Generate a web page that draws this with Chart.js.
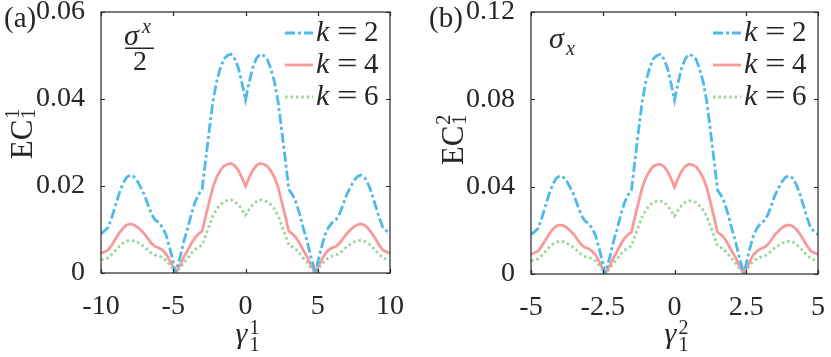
<!DOCTYPE html>
<html>
<head>
<meta charset="utf-8">
<script src="https://cdn.jsdelivr.net/npm/chart.js@4.4.0/dist/chart.umd.min.js"></script>
<style>
  html, body { margin: 0; padding: 0; background: #fff; }
  #wrap { position: relative; width: 831px; height: 357px; }
  canvas { position: absolute; top: 0; }
</style>
</head>
<body>
<div id="wrap">
  <canvas id="chartA" width="415" height="357" style="left:0px"></canvas>
  <canvas id="chartB" width="416" height="357" style="left:415px"></canvas>
</div>
<script>
// ---- panel (a) data: gamma_1^1 vs EC_1^1 ----
const gammaA = [-10, -9.75, -9.5, -9.25, -9, -8.75, -8.5, -8.25, -8, -7.75, -7.5, -7.25, -7, -6.75, -6.5, -6.25, -6, -5.75, -5.5, -5.25, -5, -4.85, -4.5, -4.25, -4, -3.75, -3.5, -3.25, -3, -2.75, -2.5, -2.25, -2, -1.75, -1.5, -1.25, -1, -0.75, -0.5, -0.25, 0,
  0.25, 0.5, 0.75, 1, 1.25, 1.5, 1.75, 2, 2.25, 2.5, 2.75, 3, 3.25, 3.5, 3.75, 4, 4.25, 4.5, 4.85, 5, 5.25, 5.5, 5.75, 6, 6.25, 6.5, 6.75, 7, 7.25, 7.5, 7.75, 8, 8.25, 8.5, 8.75, 9, 9.25, 9.5, 9.75, 10];
const ecA_k2 = [0.0090, 0.0097, 0.0105, 0.0128, 0.0155, 0.0182, 0.0204, 0.0219, 0.0225, 0.0222, 0.0212, 0.0197, 0.0180, 0.0157, 0.0135, 0.0122, 0.0116, 0.0105, 0.0088, 0.0058, 0.0025, 0.0000, 0.0040, 0.0075, 0.0103, 0.0135, 0.0162, 0.0180, 0.0192, 0.0262, 0.0330, 0.0395, 0.0440, 0.0470, 0.0492, 0.0500, 0.0503, 0.0493, 0.0472, 0.0438, 0.0398,
  0.0438, 0.0472, 0.0493, 0.0503, 0.0500, 0.0492, 0.0470, 0.0440, 0.0395, 0.0330, 0.0262, 0.0192, 0.0180, 0.0162, 0.0135, 0.0103, 0.0075, 0.0040, 0.0000, 0.0025, 0.0058, 0.0088, 0.0105, 0.0116, 0.0122, 0.0135, 0.0157, 0.0180, 0.0197, 0.0212, 0.0222, 0.0225, 0.0219, 0.0204, 0.0182, 0.0155, 0.0128, 0.0105, 0.0097, 0.0090];
const ecA_k4 = [0.0045, 0.0049, 0.0053, 0.0064, 0.0078, 0.0091, 0.0102, 0.0110, 0.0113, 0.0111, 0.0106, 0.0099, 0.0090, 0.0079, 0.0068, 0.0061, 0.0058, 0.0053, 0.0044, 0.0029, 0.0013, 0.0000, 0.0020, 0.0038, 0.0052, 0.0068, 0.0081, 0.0090, 0.0096, 0.0131, 0.0165, 0.0198, 0.0220, 0.0235, 0.0246, 0.0250, 0.0252, 0.0247, 0.0236, 0.0219, 0.0199,
  0.0219, 0.0236, 0.0247, 0.0252, 0.0250, 0.0246, 0.0235, 0.0220, 0.0198, 0.0165, 0.0131, 0.0096, 0.0090, 0.0081, 0.0068, 0.0052, 0.0038, 0.0020, 0.0000, 0.0013, 0.0029, 0.0044, 0.0053, 0.0058, 0.0061, 0.0068, 0.0079, 0.0090, 0.0099, 0.0106, 0.0111, 0.0113, 0.0110, 0.0102, 0.0091, 0.0078, 0.0064, 0.0053, 0.0049, 0.0045];
const ecA_k6 = [0.0030, 0.0032, 0.0035, 0.0043, 0.0052, 0.0061, 0.0068, 0.0073, 0.0075, 0.0074, 0.0071, 0.0066, 0.0060, 0.0052, 0.0045, 0.0041, 0.0039, 0.0035, 0.0029, 0.0019, 0.0008, 0.0000, 0.0013, 0.0025, 0.0034, 0.0045, 0.0054, 0.0060, 0.0064, 0.0087, 0.0110, 0.0132, 0.0147, 0.0157, 0.0164, 0.0167, 0.0168, 0.0164, 0.0157, 0.0146, 0.0133,
  0.0146, 0.0157, 0.0164, 0.0168, 0.0167, 0.0164, 0.0157, 0.0147, 0.0132, 0.0110, 0.0087, 0.0064, 0.0060, 0.0054, 0.0045, 0.0034, 0.0025, 0.0013, 0.0000, 0.0008, 0.0019, 0.0029, 0.0035, 0.0039, 0.0041, 0.0045, 0.0052, 0.0060, 0.0066, 0.0071, 0.0074, 0.0075, 0.0073, 0.0068, 0.0061, 0.0052, 0.0043, 0.0035, 0.0032, 0.0030];

// ---- panel (b) data: gamma_1^2 vs EC_1^2 ----
const gammaB = [-5, -4.875, -4.75, -4.625, -4.5, -4.375, -4.25, -4.125, -4, -3.875, -3.75, -3.625, -3.5, -3.375, -3.25, -3.125, -3, -2.875, -2.75, -2.625, -2.5, -2.425, -2.25, -2.125, -2, -1.875, -1.75, -1.625, -1.5, -1.375, -1.25, -1.125, -1, -0.875, -0.75, -0.625, -0.5, -0.375, -0.25, -0.125, 0,
  0.125, 0.25, 0.375, 0.5, 0.625, 0.75, 0.875, 1, 1.125, 1.25, 1.375, 1.5, 1.625, 1.75, 1.875, 2, 2.125, 2.25, 2.425, 2.5, 2.625, 2.75, 2.875, 3, 3.125, 3.25, 3.375, 3.5, 3.625, 3.75, 3.875, 4, 4.125, 4.25, 4.375, 4.5, 4.625, 4.75, 4.875, 5];
const ecB_k2 = [0.0180, 0.0194, 0.0210, 0.0256, 0.0310, 0.0364, 0.0408, 0.0438, 0.0450, 0.0444, 0.0424, 0.0394, 0.0360, 0.0314, 0.0270, 0.0244, 0.0232, 0.0210, 0.0176, 0.0116, 0.0050, 0.0000, 0.0080, 0.0150, 0.0206, 0.0270, 0.0324, 0.0360, 0.0384, 0.0524, 0.0660, 0.0790, 0.0880, 0.0940, 0.0984, 0.1000, 0.1006, 0.0986, 0.0944, 0.0876, 0.0796,
  0.0876, 0.0944, 0.0986, 0.1006, 0.1000, 0.0984, 0.0940, 0.0880, 0.0790, 0.0660, 0.0524, 0.0384, 0.0360, 0.0324, 0.0270, 0.0206, 0.0150, 0.0080, 0.0000, 0.0050, 0.0116, 0.0176, 0.0210, 0.0232, 0.0244, 0.0270, 0.0314, 0.0360, 0.0394, 0.0424, 0.0444, 0.0450, 0.0438, 0.0408, 0.0364, 0.0310, 0.0256, 0.0210, 0.0194, 0.0180];
const ecB_k4 = [0.0090, 0.0097, 0.0105, 0.0128, 0.0155, 0.0182, 0.0204, 0.0219, 0.0225, 0.0222, 0.0212, 0.0197, 0.0180, 0.0157, 0.0135, 0.0122, 0.0116, 0.0105, 0.0088, 0.0058, 0.0025, 0.0000, 0.0040, 0.0075, 0.0103, 0.0135, 0.0162, 0.0180, 0.0192, 0.0262, 0.0330, 0.0395, 0.0440, 0.0470, 0.0492, 0.0500, 0.0503, 0.0493, 0.0472, 0.0438, 0.0398,
  0.0438, 0.0472, 0.0493, 0.0503, 0.0500, 0.0492, 0.0470, 0.0440, 0.0395, 0.0330, 0.0262, 0.0192, 0.0180, 0.0162, 0.0135, 0.0103, 0.0075, 0.0040, 0.0000, 0.0025, 0.0058, 0.0088, 0.0105, 0.0116, 0.0122, 0.0135, 0.0157, 0.0180, 0.0197, 0.0212, 0.0222, 0.0225, 0.0219, 0.0204, 0.0182, 0.0155, 0.0128, 0.0105, 0.0097, 0.0090];
const ecB_k6 = [0.0060, 0.0065, 0.0070, 0.0085, 0.0103, 0.0121, 0.0136, 0.0146, 0.0150, 0.0148, 0.0141, 0.0131, 0.0120, 0.0105, 0.0090, 0.0081, 0.0077, 0.0070, 0.0059, 0.0039, 0.0017, 0.0000, 0.0027, 0.0050, 0.0069, 0.0090, 0.0108, 0.0120, 0.0128, 0.0175, 0.0220, 0.0263, 0.0293, 0.0313, 0.0328, 0.0333, 0.0335, 0.0329, 0.0315, 0.0292, 0.0265,
  0.0292, 0.0315, 0.0329, 0.0335, 0.0333, 0.0328, 0.0313, 0.0293, 0.0263, 0.0220, 0.0175, 0.0128, 0.0120, 0.0108, 0.0090, 0.0069, 0.0050, 0.0027, 0.0000, 0.0017, 0.0039, 0.0059, 0.0070, 0.0077, 0.0081, 0.0090, 0.0105, 0.0120, 0.0131, 0.0141, 0.0148, 0.0150, 0.0146, 0.0136, 0.0121, 0.0103, 0.0085, 0.0070, 0.0065, 0.0060];

// ticks
const xTicksA = [-10, -5, 0, 5, 10];
const xLabelsA = ['-10', '-5', '0', '5', '10'];
const yTicksA = [0, 0.02, 0.04, 0.06];
const yLabelsA = ['0', '0.02', '0.04', '0.06'];
const xTicksB = [-5, -2.5, 0, 2.5, 5];
const xLabelsB = ['-5', '-2.5', '0', '2.5', '5'];
const yTicksB = [0, 0.04, 0.08, 0.12];
const yLabelsB = ['0', '0.04', '0.08', '0.12'];

const seriesNames = ['2', '4', '6'];

const SERIF = '"Liberation Serif", "DejaVu Serif", serif';
const INK = '#262626';
const COLORS = ['#4DBAE8', '#F89A9A', '#9DD69D'];
const DASHES = [[10, 3, 3, 3], [], [2.6, 2.8]];

function pts(xs, ys) {
  return xs.map((x, i) => ({ x: x, y: ys[i] }));
}

function txt(ctx, s, x, y, size, italic) {
  ctx.font = (italic ? 'italic ' : '') + size + 'px ' + SERIF;
  ctx.textAlign = 'left';
  ctx.textBaseline = 'alphabetic';
  ctx.fillStyle = INK;
  ctx.fillText(s, x, y);
  return ctx.measureText(s).width;
}

// box around the plot and inward ticks (MATLAB style)
function drawFrame(chart, xTicks, yTicks) {
  const { ctx, chartArea: a, scales } = chart;
  ctx.save();
  ctx.strokeStyle = INK;
  ctx.lineWidth = 1.2;
  ctx.strokeRect(a.left, a.top, a.right - a.left, a.bottom - a.top);
  ctx.beginPath();
  xTicks.forEach(v => {
    const p = Math.round(scales.x.getPixelForValue(v)) + 0.5;
    ctx.moveTo(p, a.bottom); ctx.lineTo(p, a.bottom - 4);
    ctx.moveTo(p, a.top); ctx.lineTo(p, a.top + 4);
  });
  yTicks.forEach(v => {
    const p = Math.round(scales.y.getPixelForValue(v)) + 0.5;
    ctx.moveTo(a.left, p); ctx.lineTo(a.left + 4, p);
    ctx.moveTo(a.right, p); ctx.lineTo(a.right - 4, p);
  });
  ctx.stroke();
  ctx.restore();
}

function drawLegend(chart) {
  const { ctx, chartArea: a } = chart;
  const rowsLine = [33, 65, 97];
  ctx.save();
  seriesNames.forEach((name, i) => {
    ctx.strokeStyle = COLORS[i];
    ctx.lineWidth = 2.8;
    ctx.setLineDash(DASHES[i]);
    ctx.beginPath();
    ctx.moveTo(a.right - 105, rowsLine[i]);
    ctx.lineTo(a.right - 77, rowsLine[i]);
    ctx.stroke();
    ctx.setLineDash([]);
    const base = rowsLine[i] + 8;
    txt(ctx, 'k', a.right - 74, base, 30, true);
    ctx.save();
    ctx.translate(a.right - 53, base);
    ctx.scale(1.25, 1);
    txt(ctx, '=', 0, 0, 29, false);
    ctx.restore();
    txt(ctx, name, a.right - 26, base, 29, false);
  });
  ctx.restore();
}

function drawYLabel(ctx, baseX, centerY, sup) {
  ctx.save();
  ctx.font = '31px ' + SERIF;
  const w = ctx.measureText('EC').width;
  ctx.font = '20px ' + SERIF;
  const sw = ctx.measureText('1').width;
  ctx.translate(baseX, centerY + (w + 1 + sw) / 2);
  ctx.rotate(-Math.PI / 2);
  txt(ctx, 'EC', 0, 0, 31, false);
  txt(ctx, sup, w + 1, -13, 20, false);
  txt(ctx, '1', w + 1, 3, 20, false);
  ctx.restore();
}

function drawXLabel(ctx, cx, baseY, sup) {
  ctx.save();
  ctx.font = 'italic 30px ' + SERIF;
  const w = ctx.measureText('γ').width;
  ctx.font = '20px ' + SERIF;
  const sw = ctx.measureText('1').width;
  const x0 = cx - (w + 2 + sw) / 2;
  txt(ctx, 'γ', x0, baseY, 30, true);
  txt(ctx, sup, x0 + w + 2, baseY - 9, 20, false);
  txt(ctx, '1', x0 + w + 2, baseY + 8, 20, false);
  ctx.restore();
}

function makeScales(xMin, xMax, xTicks, xLabels, yMax, yTicks, yLabels, yWidth, xHeight) {
  return {
    x: {
      type: 'linear', min: xMin, max: xMax,
      afterBuildTicks: s => { s.ticks = xTicks.map(v => ({ value: v })); },
      afterFit: s => { s.height = xHeight; s.paddingLeft = 0; s.paddingRight = 0; },
      ticks: {
        callback: (v, i) => xLabels[i],
        font: { family: SERIF, size: 28 }, color: INK, padding: 9,
        maxRotation: 0, autoSkip: false
      },
      grid: { display: false },
      border: { display: false }
    },
    y: {
      type: 'linear', min: 0, max: yMax,
      afterBuildTicks: s => { s.ticks = yTicks.map(v => ({ value: v })); },
      afterFit: s => { s.width = yWidth; s.paddingTop = 0; s.paddingBottom = 0; },
      ticks: {
        callback: (v, i) => yLabels[i],
        font: { family: SERIF, size: 28 }, color: INK, padding: 8,
        autoSkip: false
      },
      grid: { display: false },
      border: { display: false }
    }
  };
}

function makeDatasets(xs, series) {
  return series.map((ys, i) => ({
    label: 'k = ' + seriesNames[i],
    data: pts(xs, ys),
    borderColor: COLORS[i],
    borderWidth: 2.8,
    borderDash: DASHES[i],
    pointRadius: 0,
    tension: 0,
    fill: false
  }));
}

// panel (a)
new Chart(document.getElementById('chartA'), {
  type: 'line',
  data: { datasets: makeDatasets(gammaA, [ecA_k2, ecA_k4, ecA_k6]) },
  options: {
    responsive: false,
    animation: false,
    layout: { padding: { left: 0, top: 12, right: 25, bottom: 0 } },
    plugins: { legend: { display: false }, tooltip: { enabled: false } },
    scales: makeScales(-10, 10, xTicksA, xLabelsA, 0.06, yTicksA, yLabelsA, 101, 84)
  },
  plugins: [{
    id: 'decorA',
    afterDraw(chart) {
      const ctx = chart.ctx;
      const a = chart.chartArea;
      drawFrame(chart, xTicksA, yTicksA);
      drawLegend(chart);
      txt(ctx, '(a)', 4, 27, 29, false);
      drawYLabel(ctx, 32, 134, '1');
      drawXLabel(ctx, (a.left + a.right) / 2 + 2, 343, '1');
      // sigma^x / 2
      txt(ctx, 'σ', 124, 45, 30, true);
      txt(ctx, 'x', 142, 33, 20, true);
      ctx.fillStyle = INK;
      ctx.fillRect(125, 47.5, 29, 1.5);
      txt(ctx, '2', 133, 70, 28, false);
    }
  }]
});

// panel (b)
new Chart(document.getElementById('chartB'), {
  type: 'line',
  data: { datasets: makeDatasets(gammaB, [ecB_k2, ecB_k4, ecB_k6]) },
  options: {
    responsive: false,
    animation: false,
    layout: { padding: { left: 0, top: 12, right: 13, bottom: 0 } },
    plugins: { legend: { display: false }, tooltip: { enabled: false } },
    scales: makeScales(-5, 5, xTicksB, xLabelsB, 0.12, yTicksB, yLabelsB, 116, 83)
  },
  plugins: [{
    id: 'decorB',
    afterDraw(chart) {
      const ctx = chart.ctx;
      const a = chart.chartArea;
      drawFrame(chart, xTicksB, yTicksB);
      drawLegend(chart);
      txt(ctx, '(b)', 14, 27, 29, false);
      drawYLabel(ctx, 48, 140, '2');
      drawXLabel(ctx, (a.left + a.right) / 2 + 2, 343, '2');
      // sigma_x
      txt(ctx, 'σ', 134, 48, 30, true);
      txt(ctx, 'x', 151, 55, 20, true);
    }
  }]
});
</script>
</body>
</html>
